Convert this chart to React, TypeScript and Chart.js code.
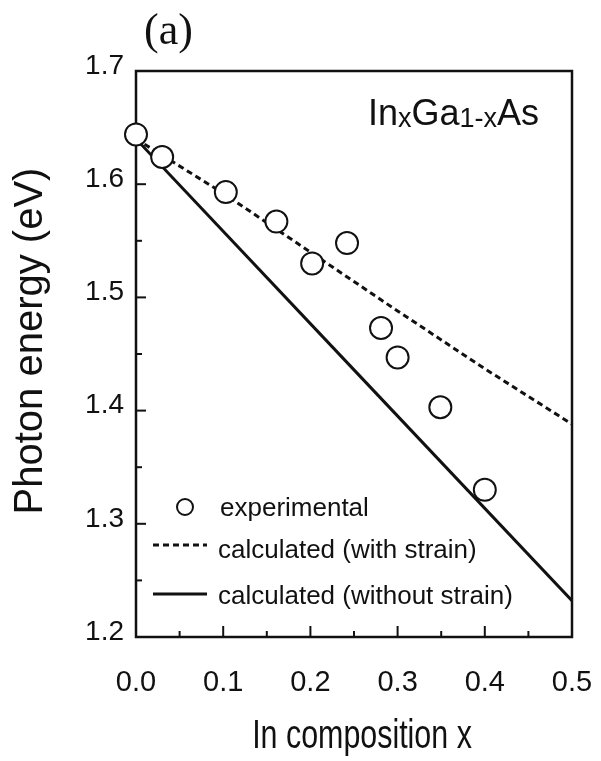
import React, { useEffect, useRef } from "react";
import { Chart, registerables } from "chart.js";

Chart.register(...registerables);

// ---- data ----
const expX = [0.0, 0.03, 0.103, 0.161, 0.202, 0.242, 0.281, 0.3, 0.349, 0.4];
const expY = [1.644, 1.624, 1.593, 1.567, 1.53, 1.548, 1.473, 1.447, 1.403, 1.33];

const strainX = [0.0, 0.1, 0.2, 0.3, 0.4, 0.5];
const strainY = [1.64, 1.592, 1.54, 1.488, 1.437, 1.388];

const noStrainX = [0.0, 0.25, 0.5];
const noStrainY = [1.64, 1.436, 1.232];

const xTicks = [0.0, 0.1, 0.2, 0.3, 0.4, 0.5];
const yTicks = [1.2, 1.3, 1.4, 1.5, 1.6, 1.7];

const legendLabels = ["experimental", "calculated (with strain)", "calculated (without strain)"];
const panelLabel = "(a)";
const xTitle = "In composition x";
const yTitle = "Photon energy (eV)";

const SANS = '"Liberation Sans", Arial, Helvetica, sans-serif';
const SERIF = '"Liberation Serif", "Times New Roman", serif';
const INK = "#111";

const mids = (arr: number[]) => arr.slice(1).map((v, i) => (v + arr[i]) / 2);

const decorPlugin = {
  id: "decor",
  beforeDraw(chart: any) {
    const { ctx, width, height } = chart;
    ctx.save();
    ctx.fillStyle = "#fff";
    ctx.fillRect(0, 0, width, height);
    ctx.restore();
  },
  beforeDatasetsDraw(chart: any) {
    const { ctx, chartArea, scales } = chart;
    const { left, right, top, bottom } = chartArea;
    const xs = scales.x;
    const ys = scales.y;
    ctx.save();
    ctx.strokeStyle = INK;
    ctx.lineWidth = 2.5;
    ctx.strokeRect(left, top, right - left, bottom - top);
    ctx.lineWidth = 2;
    xTicks.forEach((v) => {
      const px = xs.getPixelForValue(v);
      ctx.beginPath();
      ctx.moveTo(px, bottom);
      ctx.lineTo(px, bottom - 11);
      ctx.stroke();
    });
    mids(xTicks).forEach((v) => {
      const px = xs.getPixelForValue(v);
      ctx.beginPath();
      ctx.moveTo(px, bottom);
      ctx.lineTo(px, bottom - 6);
      ctx.stroke();
    });
    yTicks.forEach((v) => {
      const py = ys.getPixelForValue(v);
      ctx.beginPath();
      ctx.moveTo(left, py);
      ctx.lineTo(left + 10, py);
      ctx.stroke();
    });
    mids(yTicks).forEach((v) => {
      const py = ys.getPixelForValue(v);
      ctx.beginPath();
      ctx.moveTo(left, py);
      ctx.lineTo(left + 6, py);
      ctx.stroke();
    });
    ctx.restore();
  },
  afterDraw(chart: any) {
    const { ctx, chartArea } = chart;
    const { left, right, top } = chartArea;
    ctx.save();
    ctx.fillStyle = INK;
    ctx.strokeStyle = INK;
    ctx.textBaseline = "alphabetic";
    ctx.textAlign = "left";

    // panel label
    ctx.font = `44px ${SERIF}`;
    ctx.fillText(panelLabel, left + 8, 44);

    // axis titles
    ctx.font = `40px ${SANS}`;
    ctx.save();
    ctx.translate(362, 748);
    ctx.scale(0.76, 1);
    ctx.textAlign = "center";
    ctx.fillText(xTitle, 0, 0);
    ctx.restore();

    ctx.save();
    ctx.translate(42, 341);
    ctx.rotate(-Math.PI / 2);
    ctx.textAlign = "center";
    ctx.fillText(yTitle, 0, 0);
    ctx.restore();

    // compound name InxGa1-xAs
    const parts: [string, number, number][] = [
      ["In", 36, 0],
      ["x", 27, 2],
      ["Ga", 36, 0],
      ["1-x", 27, 2],
      ["As", 36, 0],
    ];
    let cx = right - 204;
    const base = top + 54;
    parts.forEach(([t, size, dy]) => {
      ctx.font = `${size}px ${SANS}`;
      ctx.fillText(t, cx, base + dy);
      cx += ctx.measureText(t).width;
    });

    // legend
    const lx0 = left + 17;
    const lx1 = left + 71;
    ctx.font = `26px ${SANS}`;
    ctx.lineWidth = 2;
    ctx.fillStyle = "#fff";
    ctx.beginPath();
    ctx.arc(left + 49, 507, 8, 0, Math.PI * 2);
    ctx.fill();
    ctx.stroke();
    ctx.fillStyle = INK;
    ctx.fillText(legendLabels[0], left + 84, 516);
    ctx.lineWidth = 3;
    ctx.setLineDash([6, 4]);
    ctx.beginPath();
    ctx.moveTo(lx0, 545);
    ctx.lineTo(lx1, 545);
    ctx.stroke();
    ctx.setLineDash([]);
    ctx.fillText(legendLabels[1], left + 82, 558);
    ctx.beginPath();
    ctx.moveTo(lx0, 594);
    ctx.lineTo(lx1, 594);
    ctx.stroke();
    ctx.fillText(legendLabels[2], left + 82, 604);
    ctx.restore();
  },
};

export default function App() {
  const ref = useRef<HTMLCanvasElement>(null);

  useEffect(() => {
    if (!ref.current) return;
    const chart = new Chart(ref.current, {
      type: "scatter",
      data: {
        datasets: [
          {
            label: legendLabels[0],
            data: expX.map((x, i) => ({ x, y: expY[i] })),
            showLine: false,
            pointRadius: 11,
            pointHoverRadius: 11,
            pointBorderWidth: 2,
            pointBackgroundColor: "#fff",
            pointBorderColor: INK,
            clip: false,
          } as any,
          {
            label: legendLabels[1],
            data: strainX.map((x, i) => ({ x, y: strainY[i] })),
            showLine: true,
            borderColor: INK,
            borderWidth: 3,
            borderDash: [6, 4],
            pointRadius: 0,
            pointHoverRadius: 0,
            fill: false,
          } as any,
          {
            label: legendLabels[2],
            data: noStrainX.map((x, i) => ({ x, y: noStrainY[i] })),
            showLine: true,
            borderColor: INK,
            borderWidth: 3,
            pointRadius: 0,
            pointHoverRadius: 0,
            fill: false,
          } as any,
        ],
      },
      options: {
        responsive: false,
        animation: false,
        devicePixelRatio: 1,
        layout: { padding: { left: 0, top: 71, right: 29, bottom: 0 } },
        plugins: {
          legend: { display: false },
          tooltip: { enabled: false },
          title: { display: false },
        },
        events: [],
        scales: {
          x: {
            type: "linear",
            min: 0,
            max: 0.5,
            grid: { display: false, drawTicks: true, tickLength: 29 },
            border: { display: false },
            afterBuildTicks: (s: any) => {
              s.ticks = xTicks.map((v) => ({ value: v }));
            },
            afterFit: (s: any) => {
              s.height = 124;
            },
            ticks: {
              color: INK,
              padding: 0,
              maxRotation: 0,
              autoSkip: false,
              font: { family: SANS, size: 29 },
              callback: (v: any) => Number(v).toFixed(1),
            },
            title: { display: false, text: xTitle },
          },
          y: {
            type: "linear",
            min: 1.2,
            max: 1.7,
            grid: { display: false, drawTicks: false },
            border: { display: false },
            afterBuildTicks: (s: any) => {
              s.ticks = yTicks.map((v) => ({ value: v }));
            },
            afterFit: (s: any) => {
              s.width = 136;
            },
            ticks: {
              color: INK,
              padding: 12,
              labelOffset: -5,
              autoSkip: false,
              font: { family: SANS, size: 28 },
              callback: (v: any) => Number(v).toFixed(1),
            },
            title: { display: false, text: yTitle },
          },
        },
      } as any,
      plugins: [decorPlugin],
    });
    return () => chart.destroy();
  }, []);

  return (
    <div style={{ position: "absolute", left: 0, top: 0, width: 601, height: 761, background: "#fff" }}>
      <canvas ref={ref} width={601} height={761} style={{ display: "block", width: 601, height: 761 }} />
    </div>
  );
}
